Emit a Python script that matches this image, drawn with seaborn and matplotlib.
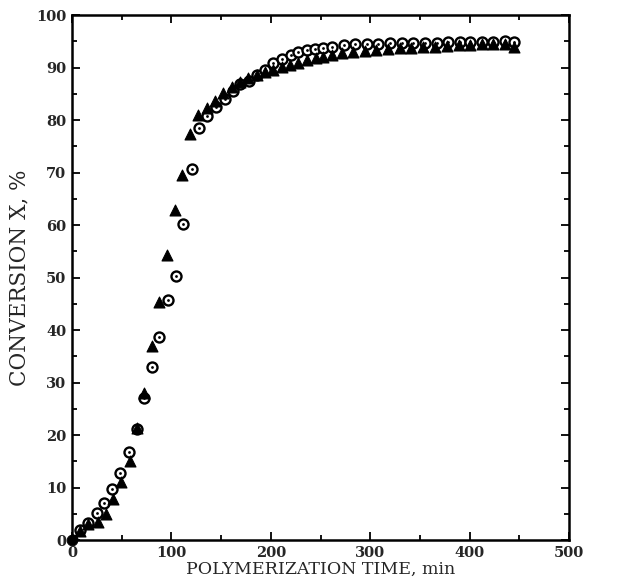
import matplotlib
matplotlib.use("Agg")
import matplotlib.pyplot as plt
from matplotlib.ticker import MultipleLocator
import seaborn as sns
import pandas as pd

# Conversion vs. polymerization time, two runs
time_circle = [0, 8, 16, 25, 32, 40, 48, 57, 65, 72, 80, 88, 97, 105, 112, 121,
               128, 136, 145, 154, 162, 169, 178, 186, 194, 202, 211, 220, 227,
               236, 244, 252, 262, 274, 285, 297, 308, 320, 332, 343, 355, 367,
               378, 390, 400, 412, 424, 436, 445]
conv_circle = [0.0, 1.9, 3.2, 5.1, 7.0, 9.8, 12.8, 16.8, 21.2, 27.0, 33.0, 38.7,
               45.8, 50.2, 60.2, 70.7, 78.4, 80.8, 82.4, 84.0, 85.5, 86.8, 87.4,
               88.6, 89.6, 90.8, 91.6, 92.4, 92.9, 93.3, 93.6, 93.8, 94.0, 94.3,
               94.4, 94.5, 94.5, 94.6, 94.6, 94.7, 94.7, 94.7, 94.8, 94.8, 94.8,
               94.9, 94.9, 95.0, 94.8]

time_tri = [0, 8, 16, 26, 34, 41.5, 49.5, 58, 65.5, 72.5, 80, 88, 96, 104, 111,
            119, 127, 136, 144, 152, 161, 169, 177, 186, 194, 202, 211, 219, 227,
            236, 245, 253, 262, 272, 283, 295, 306, 318, 330, 341, 353, 365, 377,
            389, 400, 412, 424, 436, 445]
conv_tri = [0.0, 1.8, 3.1, 3.4, 5.0, 7.9, 11.0, 15.1, 21.3, 28.0, 36.9, 45.4,
            54.2, 62.9, 69.5, 77.4, 81.0, 82.2, 83.6, 85.1, 86.3, 87.3, 88.0,
            88.6, 89.2, 89.6, 90.1, 90.5, 90.8, 91.4, 91.8, 92.0, 92.4, 92.8,
            93.0, 93.2, 93.4, 93.6, 93.7, 93.8, 93.9, 94.0, 94.1, 94.2, 94.3,
            94.4, 94.4, 94.5, 94.0]

x_ticks = [0, 100, 200, 300, 400, 500]
y_ticks = [0, 10, 20, 30, 40, 50, 60, 70, 80, 90, 100]

df_c = pd.DataFrame({"t": time_circle, "x": conv_circle})
df_t = pd.DataFrame({"t": time_tri, "x": conv_tri})

sns.set_style("ticks")
plt.rcParams["font.family"] = ["DejaVu Serif", "DejaVu Sans"]

fig = plt.figure(figsize=(6.22, 5.87), dpi=100)
ax = fig.add_axes([0.1158, 0.080, 0.799, 0.8944])

# open circles with a centre dot
sns.scatterplot(data=df_c, x="t", y="x", ax=ax, marker="o", s=52,
                facecolor="white", edgecolor="black", linewidth=1.7, zorder=3)
sns.scatterplot(data=df_c, x="t", y="x", ax=ax, marker="o", s=4,
                color="black", edgecolor="black", linewidth=0, zorder=4)
# filled triangles
sns.scatterplot(data=df_t, x="t", y="x", ax=ax, marker="^", s=62,
                color="black", edgecolor="black", linewidth=0.8, zorder=5)
# origin point shown filled
sns.scatterplot(x=[time_circle[0]], y=[conv_circle[0]], ax=ax, marker="o",
                s=60, color="black", edgecolor="black", zorder=6, clip_on=False)

ax.set_xlim(0, 500)
ax.set_ylim(0, 100)
ax.set_xticks(x_ticks)
ax.set_yticks(y_ticks)
ax.xaxis.set_minor_locator(MultipleLocator(50))
ax.yaxis.set_minor_locator(MultipleLocator(5))
ax.tick_params(which="both", direction="in", top=True, right=True,
               width=1.3, color="black")
ax.tick_params(which="major", length=6, pad=4)
ax.tick_params(which="minor", length=3.5)
for lab in ax.get_xticklabels() + ax.get_yticklabels():
    lab.set_fontweight("bold")
    lab.set_fontsize(10.5)
for sp in ax.spines.values():
    sp.set_linewidth(1.8)
    sp.set_color("black")

ax.set_xlabel("POLYMERIZATION TIME, min", fontsize=12.5, labelpad=1)
ax.set_ylabel("CONVERSION X, %", fontsize=15.5, labelpad=4)

fig.savefig("out.png", dpi=100)
